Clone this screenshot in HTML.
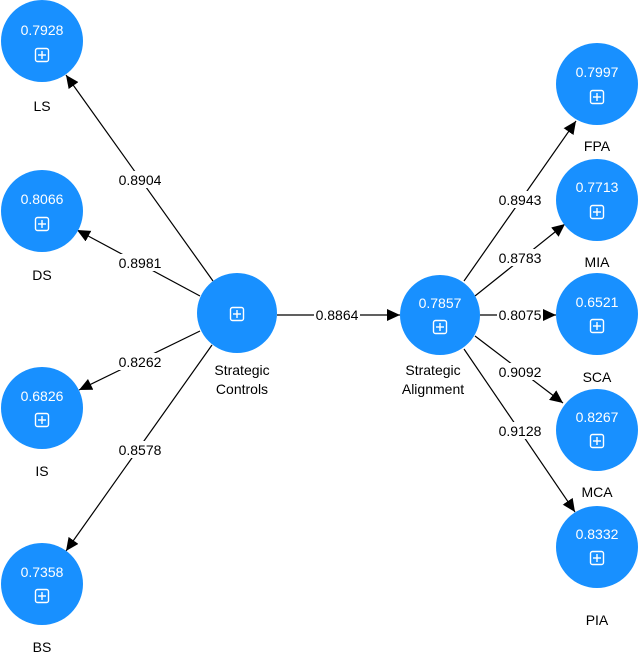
<!DOCTYPE html>
<html><head><meta charset="utf-8"><style>
html,body{margin:0;padding:0;background:#fff;width:640px;height:658px;overflow:hidden}
svg text{font-family:"Liberation Sans",Arial,sans-serif}
</style></head><body>
<svg width="640" height="658" viewBox="0 0 640 658" xmlns="http://www.w3.org/2000/svg">
<defs>
<marker id="a" markerWidth="14" markerHeight="14" refX="13" refY="6" orient="auto" markerUnits="userSpaceOnUse">
<path d="M0,0 L13,6 L0,12 Z" fill="#000"/>
</marker>
<g id="ic"><rect x="-6.5" y="-6.5" width="13" height="13" rx="2" fill="none" stroke="#fff" stroke-width="1.4"/><line x1="-4" y1="0" x2="4" y2="0" stroke="#fff" stroke-width="1.4"/><line x1="0" y1="-4" x2="0" y2="4" stroke="#fff" stroke-width="1.4"/></g>
</defs>
<g stroke="#000" stroke-width="1.2" fill="none">
<line x1="213" y1="281" x2="66" y2="75" marker-end="url(#a)"/>
<line x1="200" y1="296" x2="77" y2="230" marker-end="url(#a)"/>
<line x1="200" y1="331" x2="79" y2="390" marker-end="url(#a)"/>
<line x1="212" y1="345" x2="66" y2="551" marker-end="url(#a)"/>
<line x1="277" y1="315" x2="400" y2="315" marker-end="url(#a)"/>
<line x1="464" y1="281" x2="576" y2="121" marker-end="url(#a)"/>
<line x1="475" y1="296" x2="565" y2="224" marker-end="url(#a)"/>
<line x1="480" y1="315" x2="556" y2="315" marker-end="url(#a)"/>
<line x1="475" y1="336" x2="563" y2="403" marker-end="url(#a)"/>
<line x1="464" y1="349" x2="575" y2="512" marker-end="url(#a)"/>
</g>
<g font-size="14" fill="#000" text-anchor="middle">
<g fill="#fff"><rect x="117" y="171" width="46" height="17"/><rect x="117" y="254" width="46" height="17"/><rect x="117" y="353" width="46" height="17"/><rect x="117" y="441" width="46" height="17"/><rect x="314" y="306" width="46" height="17"/><rect x="497" y="191" width="46" height="17"/><rect x="497" y="249" width="46" height="17"/><rect x="497" y="306" width="46" height="17"/><rect x="497" y="363" width="46" height="17"/><rect x="497" y="422" width="46" height="17"/></g>
<text x="140" y="185">0.8904</text>
<text x="140" y="268">0.8981</text>
<text x="140" y="367">0.8262</text>
<text x="140" y="455">0.8578</text>
<text x="337" y="320">0.8864</text>
<text x="520" y="205">0.8943</text>
<text x="520" y="263">0.8783</text>
<text x="520" y="320">0.8075</text>
<text x="520" y="377">0.9092</text>
<text x="520" y="436">0.9128</text>
</g>
<g fill="#1890ff">
<circle cx="42" cy="41" r="41"/><circle cx="42" cy="211" r="41"/><circle cx="42" cy="408" r="41"/><circle cx="42" cy="584" r="41"/>
<circle cx="237" cy="313" r="40"/><circle cx="440" cy="315" r="40"/>
<circle cx="597" cy="84" r="41"/><circle cx="597" cy="200" r="41"/><circle cx="597" cy="314" r="41"/><circle cx="597" cy="430" r="41"/><circle cx="597" cy="547" r="41"/>
</g>
<g font-size="14" fill="#fff" text-anchor="middle">
<text x="42" y="35">0.7928</text><text x="42" y="204">0.8066</text><text x="42" y="401">0.6826</text><text x="42" y="577">0.7358</text>
<text x="440" y="308">0.7857</text>
<text x="597" y="77">0.7997</text><text x="597" y="192">0.7713</text><text x="597" y="307">0.6521</text><text x="597" y="422">0.8267</text><text x="597" y="539">0.8332</text>
</g>
<use href="#ic" x="42" y="55"/><use href="#ic" x="42" y="224"/><use href="#ic" x="42" y="420"/><use href="#ic" x="42" y="596"/>
<use href="#ic" x="237" y="314"/><use href="#ic" x="440" y="327"/>
<use href="#ic" x="597" y="97"/><use href="#ic" x="597" y="212"/><use href="#ic" x="597" y="326"/><use href="#ic" x="597" y="441"/><use href="#ic" x="597" y="558"/>
<g font-size="14" fill="#000" text-anchor="middle">
<text x="42" y="111">LS</text><text x="42" y="280">DS</text><text x="42" y="476">IS</text><text x="42" y="652">BS</text>
<text x="242" y="375">Strategic</text><text x="242" y="394">Controls</text>
<text x="433" y="375">Strategic</text><text x="433" y="394">Alignment</text>
<text x="597" y="151">FPA</text><text x="597" y="267">MIA</text><text x="597" y="382">SCA</text><text x="597" y="497">MCA</text><text x="597" y="625">PIA</text>
</g>
</svg>
</body></html>
